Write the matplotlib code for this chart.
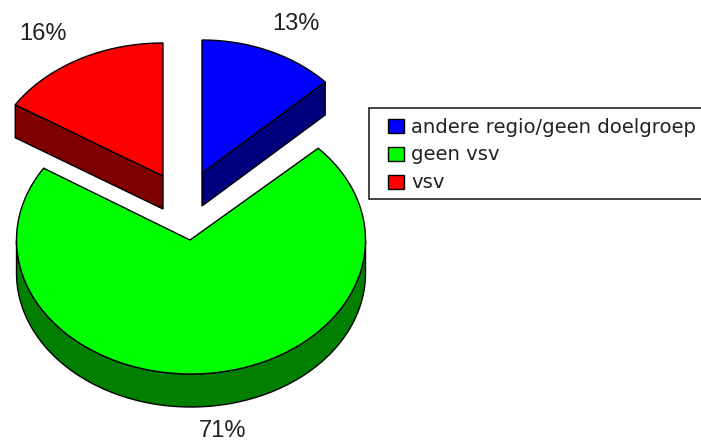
import numpy as np
import matplotlib
matplotlib.use('Agg')
import matplotlib.pyplot as plt
from matplotlib.patches import Polygon, Rectangle

# pie data, clockwise from 12 o'clock
categories = ['andere regio/geen doelgroep', 'geen vsv', 'vsv']
shares = [13, 71, 16]
top_colors = ['#0000ff', '#00ff00', '#ff0000']
side_colors = ['#00007f', '#007f00', '#7f0000']
label_pos = [(296, 24), (223, 431), (43, 34)]

# each slice sits on its own ellipse because of the explode
centers = [(202, 173), (191, 240), (163, 176)]
apexes = [(202, 173), (190, 240), (163, 176)]
radii_x = [169, 174.5, 175]
radii_y = [133, 134, 133]
DEPTH = 33


def ellipse_pts(i, a0, a1):
    t = np.radians(np.linspace(a0, a1, 200))
    cx, cy = centers[i]
    return np.column_stack([cx + radii_x[i] * np.cos(t), cy - radii_y[i] * np.sin(t)])


fig = plt.figure(figsize=(7.01, 4.43), dpi=100)
ax = fig.add_axes([0, 0, 1, 1])
ax.set_xlim(0, 701)
ax.set_ylim(443, 0)
ax.axis('off')

total = sum(shares)
start = 90.0
for i, share in enumerate(shares):
    end = start - share / total * 360
    apex = np.array(apexes[i], dtype=float)
    arc = ellipse_pts(i, start, end)
    sides = []

    # front part of the rim
    vis = [a for a in np.linspace(start, end, 400) if np.sin(np.radians(a)) < 0]
    if vis:
        rim = ellipse_pts(i, vis[0], vis[-1])
        sides.append(np.vstack([rim, (rim + [0, DEPTH])[::-1]]))

    # cut edge facing the viewer on the blue and red slices
    if i != 1:
        p = arc[-1] if i == 0 else arc[0]
        sides.append(np.array([apex, p, p + [0, DEPTH], apex + [0, DEPTH]]))

    for s in sides:
        ax.add_patch(Polygon(s, closed=True, fc=side_colors[i], ec='black', lw=1.0, zorder=2))

    ax.add_patch(Polygon(np.vstack([apex, arc]), closed=True, fc=top_colors[i],
                         ec='black', lw=1.0, zorder=3))
    ax.text(label_pos[i][0], label_pos[i][1], f'{share}%', ha='center', va='center',
            fontsize=17, family='Liberation Sans', color='#222222', zorder=5)
    start = end

# legend box runs off the right edge
ax.add_patch(Rectangle((369, 108), 340, 91, fc='white', ec='#222222', lw=1.2, zorder=1))
swatch_y = [119, 147, 175]
text_y = [127, 155, 182]
for i, name in enumerate(categories):
    ax.add_patch(Rectangle((388, swatch_y[i]), 16, 14, fc=top_colors[i], ec='black', lw=1.0, zorder=3))
    ax.text(411, text_y[i], name, ha='left', va='center', fontsize=14.1,
            family='DejaVu Sans', color='#222222', zorder=5)

fig.savefig('out.png', dpi=100)
